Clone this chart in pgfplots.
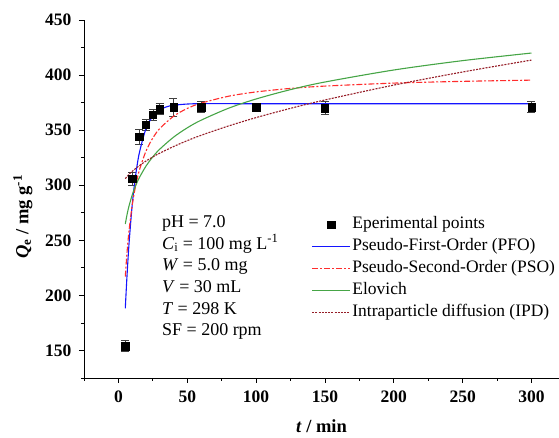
\documentclass[border=0pt]{standalone}
\usepackage{fontspec}
\setmainfont{Liberation Serif}
\usepackage{pgfplots}
\pgfplotsset{compat=1.18}

\definecolor{pfoblue}{RGB}{20,20,255}
\definecolor{psored}{RGB}{255,45,45}
\definecolor{elogreen}{RGB}{70,165,70}
\definecolor{ipdbrown}{RGB}{150,30,40}

\begin{document}
\begin{tikzpicture}
\useasboundingbox (-84pt,-60pt) rectangle (475pt,378pt);
\begin{axis}[
  at={(0pt,0pt)}, anchor=south west,
  scale only axis, width=475pt, height=358pt,
  xmin=-25, xmax=320, ymin=125, ymax=450,
  axis x line*=bottom, axis y line*=left,
  axis line style={-, line width=0.9pt},
  xtick={0,50,...,300},
  minor xtick={-25,25,75,125,175,225,275},
  ytick={150,200,...,450},
  minor ytick={125,175,225,275,325,375,425},
  tick align=outside,
  major tick length=5pt, minor tick length=3pt,
  every tick/.style={black, line width=0.8pt},
  /pgf/number format/assume math mode=true,
  tick label style={font=\fontsize{17.5}{17.5}\selectfont\bfseries},
  xticklabel style={yshift=-4pt},
  yticklabel style={xshift=-4pt},
  xlabel={\textbf{\textit{t} / min}},
  ylabel={\textbf{\textit{Q}\textsubscript{e} / mg g\textsuperscript{-1}}},
  label style={font=\fontsize{18.5}{18.5}\selectfont},
  xlabel style={yshift=-10pt},
  ylabel style={yshift=6pt, at={(ticklabel cs:0.45)}},
  legend image code/.code={\draw[#1] (0pt,0pt) -- (38pt,0pt);},
  legend cell align=left,
  legend style={at={(rel axis cs:0.479,0.454)}, anchor=north west,
    draw=none, fill=none, inner sep=0pt, row sep=4pt,
    font=\fontsize{17.5}{17.5}\selectfont,
    nodes={inner sep=1.5pt, text height=11.5pt, text depth=3.5pt}},
]
\addplot[only marks, mark=square*, mark size=3.7pt, color=black,
  legend image code/.code={\fill[black] (15.3pt,-3.7pt) rectangle (22.7pt,3.7pt);},
  error bars/.cd, y dir=both, y explicit,
  error bar style={line width=0.6pt, black!75},
  error mark options={rotate=90, mark size=4pt, line width=0.6pt, black!75}]
  coordinates {
  (5,154) +- (0,5)
  (10,306) +- (0,6)
  (15,344) +- (0,7)
  (20,355) +- (0,5)
  (25,364) +- (0,5)
  (30,369) +- (0,5)
  (40,371) +- (0,8)
  (60,371) +- (0,5)
  (100,371) +- (0,2)
  (150,370) +- (0,6)
  (300,371) +- (0,5)
};
\addlegendentry{Eperimental points}

\addplot[color=pfoblue, line width=1.1pt, smooth] coordinates {
  (5,188.3) (6,212.5) (7,233.6) (8,252.0) (10,281.8) (12,304.3)
  (15,328.2) (20,351.3) (25,362.7) (30,368.4) (35,371.2) (40,372.6)
  (50,373.7) (60,374.0) (100,374.0) (150,374.0) (200,374.0) (250,374.0) (300,374.0)
};
\addlegendentry{Pseudo-First-Order (PFO)}

\addplot[color=psored, line width=1.1pt, smooth, dash pattern=on 6pt off 2pt on 2pt off 2pt] coordinates {
  (5,217.1) (6,235.0) (7,249.8) (8,262.1) (10,281.7) (12,296.3)
  (15,312.7) (20,330.9) (25,342.9) (30,351.4) (40,362.6) (50,369.7)
  (60,374.5) (80,380.8) (100,384.7) (125,387.9) (150,390.0) (200,392.7)
  (250,394.3) (300,395.4)
};
\addlegendentry{Pseudo-Second-Order (PSO)}

\addplot[color=elogreen, line width=1.1pt, smooth] coordinates {
  (5,264.8) (6,271.7) (7,277.6) (8,282.6) (10,291.1) (12,298.0)
  (15,306.4) (20,317.3) (25,325.8) (30,332.7) (40,343.6) (50,352.1)
  (60,359.0) (80,369.9) (100,378.3) (125,386.8) (150,393.7) (200,404.6)
  (250,413.1) (300,420.0)
};
\addlegendentry{Elovich}

\addplot[color=ipdbrown, line width=1.1pt, smooth, dash pattern=on 2pt off 1.2pt] coordinates {
  (5,306.0) (7,308.9) (10,312.6) (15,317.6) (20,321.9) (25,325.7)
  (30,329.1) (40,335.1) (50,340.5) (60,345.3) (80,353.8) (100,361.4)
  (125,369.8) (150,377.4) (200,390.9) (250,402.8) (300,413.6)
};
\addlegendentry{Intraparticle diffusion (IPD)}

\node[anchor=north west, align=left, inner sep=0pt,
  font=\fontsize{18}{21.6}\selectfont] at (rel axis cs:0.164,0.454) {%
  pH = 7.0\\
  \textit{C}\textsubscript{i} = 100 mg L\textsuperscript{-1}\\
  \textit{W} = 5.0 mg\\
  \textit{V} = 30 mL\\
  \textit{T} = 298 K\\
  SF = 200 rpm};
\end{axis}
\end{tikzpicture}
\end{document}
